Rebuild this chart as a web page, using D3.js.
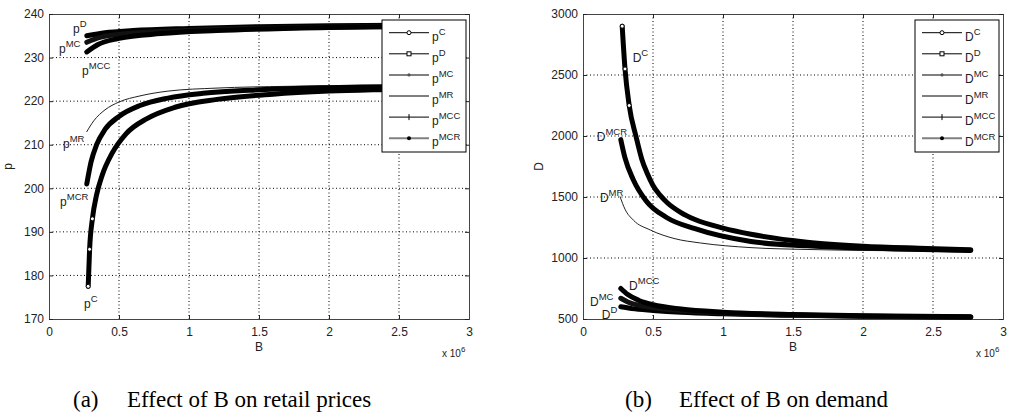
<!DOCTYPE html>
<html>
<head>
<meta charset="utf-8">
<script src="https://cdn.jsdelivr.net/npm/d3@7"></script>
<style>
body { margin: 0; background: #fff; }
svg text { font-family: "Liberation Sans", Arial, sans-serif; fill: #222; }
.caption { font-family: "Liberation Serif", "Times New Roman", serif; fill: #000; }
</style>
</head>
<body>
<svg id="chart" width="1009" height="414"></svg>
<script>
// B values are in units of 1e6
var xTicks = [0, 0.5, 1, 1.5, 2, 2.5, 3]
var priceTicks = [170, 180, 190, 200, 210, 220, 230, 240]
var demandTicks = [500, 1000, 1500, 2000, 2500, 3000]
var keys = ["C", "D", "MC", "MR", "MCC", "MCR"]

// (a) retail prices, [B, p]
var pC = [[0.28, 177.5], [0.29, 186], [0.31, 193], [0.34, 198.5], [0.38, 203], [0.45, 208], [0.55, 212.5], [0.7, 216], [0.9, 218.6], [1.2, 220.4], [1.6, 221.6], [2.0, 222.3], [2.4, 222.7], [2.77, 223]]
var pD = [[0.27, 235], [0.4, 235.7], [0.6, 236.2], [1.0, 236.7], [1.5, 237.1], [2.0, 237.3], [2.77, 237.5]]
var pMC = [[0.27, 233.5], [0.35, 234.5], [0.5, 235.3], [0.8, 236], [1.2, 236.5], [2.0, 237], [2.77, 237.3]]
var pMR = [[0.27, 213], [0.32, 215.5], [0.4, 218], [0.5, 219.8], [0.65, 221.2], [0.85, 222.3], [1.2, 223], [1.7, 223.4], [2.2, 223.6], [2.77, 223.7]]
var pMCC = [[0.27, 231.3], [0.35, 233], [0.5, 234.4], [0.8, 235.5], [1.2, 236.2], [2.0, 236.9], [2.77, 237.2]]
var pMCR = [[0.27, 201], [0.3, 206], [0.34, 210], [0.4, 213.5], [0.5, 216.5], [0.65, 219], [0.85, 220.7], [1.1, 221.8], [1.5, 222.6], [2.0, 223.1], [2.77, 223.4]]

// (b) demand, [B, D]
var dC = [[0.28, 2900], [0.3, 2550], [0.33, 2250], [0.38, 1990], [0.42, 1810], [0.46, 1690], [0.5, 1595], [0.55, 1515], [0.6, 1455], [0.7, 1372], [0.8, 1315], [1.0, 1245], [1.2, 1195], [1.6, 1130], [2.0, 1097], [2.4, 1080], [2.77, 1068]]
var dD = [[0.27, 600], [0.35, 585], [0.5, 570], [0.7, 555], [1.0, 542], [1.5, 530], [2.0, 522], [2.77, 515]]
var dMC = [[0.27, 670], [0.32, 640], [0.4, 612], [0.5, 592], [0.7, 570], [1.0, 550], [1.5, 533], [2.0, 523], [2.77, 516]]
var dMR = [[0.265, 1502], [0.3, 1400], [0.36, 1310], [0.48, 1230], [0.65, 1160], [0.84, 1123], [1.2, 1085], [1.6, 1070], [2.0, 1062], [2.77, 1055]]
var dMCC = [[0.27, 750], [0.32, 700], [0.4, 652], [0.5, 617], [0.7, 582], [1.0, 556], [1.5, 536], [2.0, 526], [2.77, 518]]
var dMCR = [[0.27, 1970], [0.3, 1820], [0.36, 1640], [0.45, 1470], [0.6, 1330], [0.8, 1240], [1.2, 1135], [1.6, 1100], [2.0, 1082], [2.77, 1062]]

// curve labels, anchored in data units
var pLabels = [["D", 0.171, 235.6], ["MC", 0.071, 231.1], ["MCC", 0.236, 226], ["MR", 0.1, 209.3], ["MCR", 0.079, 195.9], ["C", 0.25, 172.5]]
var dLabels = [["C", 0.355, 2610], ["MCR", 0.098, 1960], ["MR", 0.121, 1462], ["MCC", 0.329, 740], ["MC", 0.05, 608], ["D", 0.134, 500]]

var styles = {
    C:   { width: 5, color: "#000", legendColor: "#000", legendWidth: 1, marker: "circle" },
    D:   { width: 5, color: "#000", legendColor: "#000", legendWidth: 1, marker: "square" },
    MC:  { width: 5, color: "#111", legendColor: "#808080", legendWidth: 2, marker: "graydot" },
    MR:  { width: 1, color: "#222", legendColor: "#000", legendWidth: 1, marker: null },
    MCC: { width: 5, color: "#000", legendColor: "#000", legendWidth: 1, marker: "plus" },
    MCR: { width: 5, color: "#000", legendColor: "#808080", legendWidth: 2, marker: "dot" }
}

var svg = d3.select("#chart")

function drawMarker(g, type, cx, cy) {
    if (type == "circle") {
        g.append("circle").attr("cx", cx).attr("cy", cy).attr("r", 2)
            .attr("fill", "#fff").attr("stroke", "#000")
    } else if (type == "square") {
        g.append("rect").attr("x", cx - 2).attr("y", cy - 2).attr("width", 4).attr("height", 4)
            .attr("fill", "#fff").attr("stroke", "#000")
    } else if (type == "graydot") {
        g.append("circle").attr("cx", cx).attr("cy", cy).attr("r", 1.6).attr("fill", "#555")
    } else if (type == "dot") {
        g.append("circle").attr("cx", cx).attr("cy", cy).attr("r", 2).attr("fill", "#000")
    } else if (type == "plus") {
        g.append("line").attr("x1", cx).attr("x2", cx).attr("y1", cy - 3).attr("y2", cy + 3)
            .attr("stroke", "#000")
    }
}

function supText(g, x, y, base, sup) {
    var t = g.append("text").attr("x", x).attr("y", y).style("font-size", "12px")
    t.append("tspan").text(base)
    t.append("tspan").attr("dy", -6).style("font-size", "9.5px").text(sup)
}

function panel(opt) {
    var left = opt.left, top = 14, w = 420, h = 305

    var x = d3.scaleLinear().domain([0, 3]).range([left, left + w])
    var y = d3.scaleLinear().domain(opt.yDomain).range([top + h, top])

    var g = svg.append("g")

    // grid
    g.append("g").selectAll("line").data(xTicks.slice(1, -1)).join("line")
        .attr("x1", d => x(d)).attr("x2", d => x(d))
        .attr("y1", top).attr("y2", top + h)
        .attr("stroke", "#000").attr("stroke-dasharray", "1,2.5")
    g.append("g").selectAll("line").data(opt.yTicks.slice(1, -1)).join("line")
        .attr("y1", d => y(d)).attr("y2", d => y(d))
        .attr("x1", left).attr("x2", left + w)
        .attr("stroke", "#000").attr("stroke-dasharray", "1,2.5")

    // axes, ticks inward like the original
    var axes = [
        [d3.axisBottom(x).tickValues(xTicks).tickFormat(d => d).tickSize(-4).tickPadding(8), `translate(0,${top + h})`],
        [d3.axisTop(x).tickValues(xTicks).tickFormat("").tickSize(-4), `translate(0,${top})`],
        [d3.axisLeft(y).tickValues(opt.yTicks).tickFormat(d => d).tickSize(-4).tickPadding(5), `translate(${left},0)`],
        [d3.axisRight(y).tickValues(opt.yTicks).tickFormat("").tickSize(-4), `translate(${left + w},0)`]
    ]
    axes.forEach(a => {
        var ax = g.append("g").attr("transform", a[1]).call(a[0])
        ax.select(".domain").attr("stroke", "#444")
        ax.selectAll(".tick line").attr("stroke", "#222")
        ax.selectAll("text").style("font-size", "12px").attr("fill", "#222")
        ax.attr("font-family", null)
    })

    // axis titles
    g.append("text").attr("x", left + w / 2).attr("y", 351).attr("text-anchor", "middle")
        .style("font-size", "12px").text("B")
    g.append("text").attr("transform", `translate(${opt.yTitleX},${top + h / 2}) rotate(-90)`)
        .attr("text-anchor", "middle").style("font-size", "12px").text(opt.yTitle)
    var ex = g.append("text").attr("x", left + w - 27).attr("y", 357).style("font-size", "10px")
    ex.append("tspan").text("x 10")
    ex.append("tspan").attr("dy", -5).style("font-size", "8px").text("6")

    // curves
    var line = d3.line().x(d => x(d[0])).y(d => y(d[1])).curve(d3.curveMonotoneX)
    keys.forEach((k, i) => {
        var s = styles[k]
        g.append("path").datum(opt.series[i])
            .attr("d", line)
            .attr("fill", "none")
            .attr("stroke", s.color)
            .attr("stroke-width", s.width)
            .attr("stroke-linecap", "round")
            .attr("stroke-linejoin", "round")
        if (k == "C") {
            var mg = g.append("g")
            opt.series[i].slice(0, 3).forEach(d => drawMarker(mg, "circle", x(d[0]), y(d[1])))
        }
    })

    // curve labels
    opt.labels.forEach(l => supText(g, x(l[1]), y(l[2]), opt.sym, l[0]))

    // legend
    var lg = g.append("g").attr("transform", `translate(${opt.legendX},20)`)
    lg.append("rect").attr("width", 84).attr("height", 132)
        .attr("fill", "#fff").attr("stroke", "#000")
    keys.forEach((k, i) => {
        var s = styles[k], ry = 12.7 + i * 21.1
        lg.append("line").attr("x1", 7).attr("x2", 47).attr("y1", ry).attr("y2", ry)
            .attr("stroke", s.legendColor).attr("stroke-width", s.legendWidth)
        if (s.marker) drawMarker(lg, s.marker, 27, ry)
        supText(lg, 50, ry + 8, opt.sym, k)
    })

    // caption
    var cap = svg.append("g")
    cap.append("text").attr("class", "caption").attr("x", opt.capX).attr("y", 407)
        .style("font-size", "23px").text(opt.capTag)
    cap.append("text").attr("class", "caption").attr("x", opt.capX + 54).attr("y", 407)
        .style("font-size", "23px").text(opt.capText)
}

panel({
    left: 49, yDomain: [170, 240], yTicks: priceTicks, yTitle: "p", yTitleX: 12,
    series: [pC, pD, pMC, pMR, pMCC, pMCR], labels: pLabels, sym: "p",
    legendX: 382, capX: 73, capTag: "(a)", capText: "Effect of B on retail prices"
})
panel({
    left: 583, yDomain: [500, 3000], yTicks: demandTicks, yTitle: "D", yTitleX: 543,
    series: [dC, dD, dMC, dMR, dMCC, dMCR], labels: dLabels, sym: "D",
    legendX: 915, capX: 625, capTag: "(b)", capText: "Effect of B on demand"
})
</script>
</body>
</html>
